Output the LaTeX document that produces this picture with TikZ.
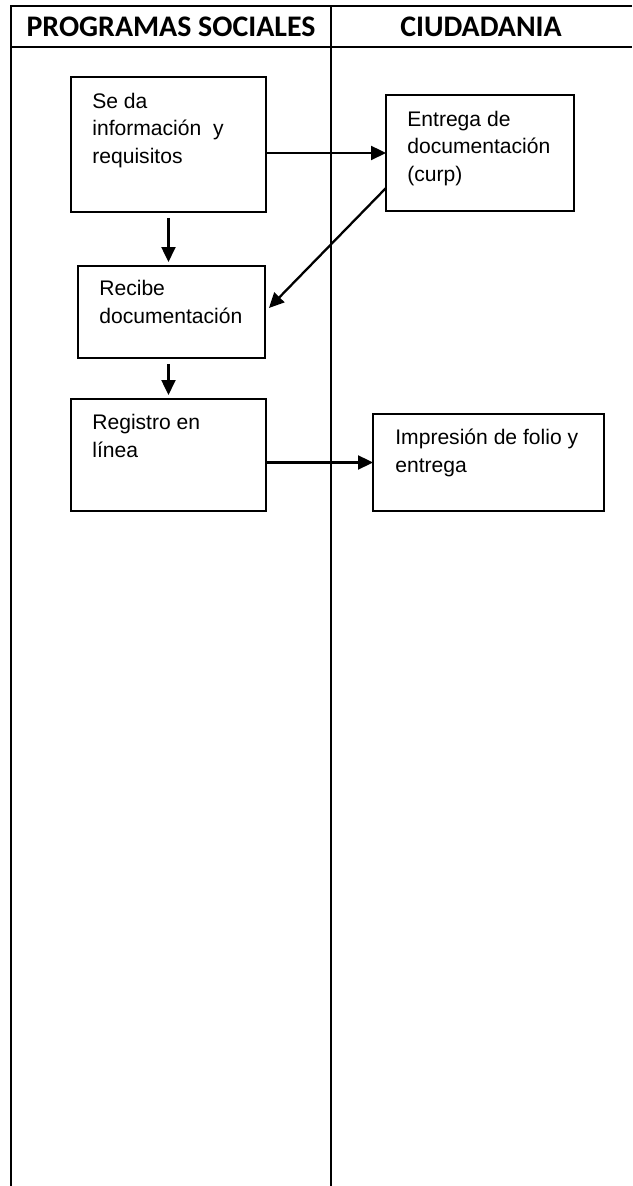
\documentclass[tikz,border=0pt]{standalone}
\usepackage{fontspec}
\setmainfont{Liberation Sans}
\newfontfamily\headfont{Carlito}
\usepackage{tikz}
\usetikzlibrary{arrows.meta, positioning}

\begin{document}
\begin{tikzpicture}[x=0.02cm, y=-0.02cm,
  box/.style={draw, line width=1.2pt, inner sep=0pt, outer sep=0pt, anchor=north west},
  txt/.style={anchor=base west, align=left, inner sep=0pt, font=\fontsize{12}{15.6}\selectfont},
  arr/.style={line width=1.3pt, -{Triangle[length=0.3cm, width=0.28cm]}},
  lane/.style={line width=1.3pt},
  head/.style={font=\headfont\bfseries\fontsize{17}{19}\selectfont}]

\useasboundingbox (0,0) rectangle (632,1186);

% swimlanes
\draw [lane] (632,6) -- (11,6) -- (11,1186);
\draw [lane] (11,47) -- (632,47);
\draw [lane] (331,6) -- (331,1186);
\node [head] (hprog) at (171,27) {PROGRAMAS SOCIALES};
\node [head] (hciud) at (481,27) {CIUDADANIA};

% boxes
\node [box, minimum width=3.9cm, minimum height=2.7cm] (info) at (71,77) {};
\node [box, minimum width=3.76cm, minimum height=2.32cm] (entrega) at (386,95) {};
\node [box, minimum width=3.74cm, minimum height=1.84cm] (recibe) at (78,266) {};
\node [box, minimum width=3.9cm, minimum height=2.24cm] (registro) at (71,399) {};
\node [box, minimum width=4.62cm, minimum height=1.94cm] (impresion) at (373,414) {};

% texts (anchored on last line)
\node [txt] (tinfo) at ([shift={(21,86)}]info.north west) {Se da\\información\ \ y\\requisitos};
\node [txt] (tentrega) at ([shift={(21,86)}]entrega.north west) {Entrega de\\documentación\\(curp)};
\node [txt] (trecibe) at ([shift={(21,57)}]recibe.north west) {Recibe\\documentación};
\node [txt] (tregistro) at ([shift={(21,58)}]registro.north west) {Registro en\\línea};
\node [txt] (timpresion) at ([shift={(22,58)}]impresion.north west) {Impresión de folio y\\entrega};

% arrows
\draw [arr] (info.east |- entrega.west) -- (entrega.west);
\draw [arr, shorten <=0.12cm, shorten >=0.08cm] (info.south) -- (info.south |- recibe.north);
\draw [arr] ([yshift=0.46cm]entrega.south west) -- ([xshift=0.08cm, yshift=0.08cm]recibe.east);
\draw [arr, shorten <=0.12cm, shorten >=0.08cm] (recibe.south -| registro.north) -- (registro.north);
\draw [arr] (registro.east |- impresion.west) -- (impresion.west);
\end{tikzpicture}
\end{document}
